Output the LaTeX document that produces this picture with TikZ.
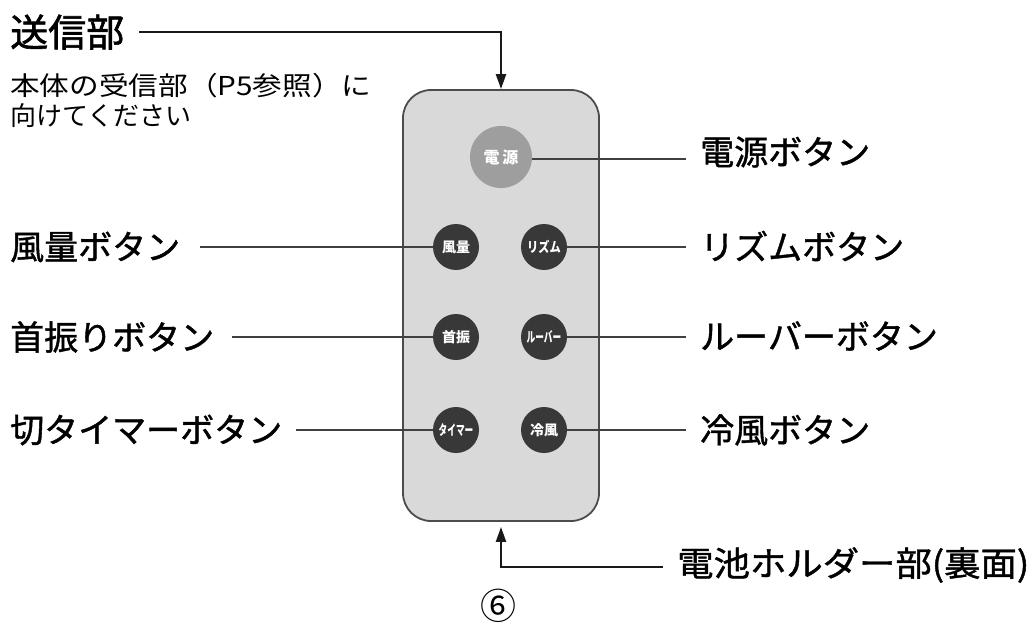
\documentclass[tikz,border=0pt]{standalone}
\usepackage{fontspec}
\usepackage{graphicx}
\usetikzlibrary{arrows.meta}
\setmainfont{Noto Sans CJK JP}
\newfontfamily\myMed[FakeBold=1.2]{Noto Sans CJK JP}
\newfontfamily\myBold[FakeBold=1.5]{Noto Sans CJK JP}
\newcommand\myLab{\fontsize{34}{40}\selectfont\myMed}
\newcommand\myBtn{\fontsize{14}{16}\selectfont\bfseries}
\begin{document}
\begin{tikzpicture}[x=1pt,y=-1pt,
  lab/.style={font=\myLab, inner sep=0pt, anchor=west},
  conn/.style={draw=black!75, line width=1.3pt},
  arr/.style={draw=black!90, line width=2.2pt, -{Triangle[length=15pt,width=10pt]}},
  btn/.style={circle, fill=black!78, minimum size=46pt, inner sep=0pt, text=white, font=\myBtn},
]
\useasboundingbox (0,0) rectangle (1032,623);
% remote body
\node[draw=black!70, line width=1.8pt, fill=black!15, rounded corners=28pt,
      minimum width=196pt, minimum height=431pt, inner sep=0pt] (body) at (501,305.5) {};
% buttons
\node[circle, fill=black!38, minimum size=62pt, inner sep=0pt, text=white,
      font=\fontsize{16}{18}\selectfont\bfseries] (pwr) at (501,157) {電\,源};
\node[btn] (fuuryo) at (456,247) {風量};
\node[btn] (rizumu) at (544,247) {\scalebox{0.8}[1]{リズム}};
\node[btn] (kubi)   at (456,337) {首振};
\node[btn] (louver) at (544,337) {\scalebox{0.62}[1]{ルーバー}};
\node[btn] (timer)  at (456,430) {\scalebox{0.62}[1]{タイマー}};
\node[btn] (reifu)  at (544,430) {冷風};
% left labels
\node[lab, font=\fontsize{38}{44}\selectfont\myBold] (sendL) at (10,32) {送信部};
\node[anchor=west, inner sep=0pt, font=\fontsize{26}{30}\selectfont] (sub1) at (10,86) {\scalebox{1.14}[1]{本体の受信部（P5参照）に}};
\node[anchor=west, inner sep=0pt, font=\fontsize{26}{30}\selectfont] (sub2) at (10,116) {向けてください};
\node[lab] (fuuryoL) at (10,247) {風量ボタン};
\node[lab] (kubiL)   at (10,337) {首振りボタン};
\node[lab] (timerL)  at (10,430) {切タイマーボタン};
% right labels
\node[lab] (pwrL)    at (700,152) {電源ボタン};
\node[lab] (rizumuL) at (700,246) {リズムボタン};
\node[lab] (louverL) at (700,336) {ルーバーボタン};
\node[lab] (reifuL)  at (700,430) {冷風ボタン};
\node[lab] (battL)   at (677,565) {\scalebox{1.07}[1]{電池ホルダー部(裏面)}};
\node[inner sep=0pt, font=\fontsize{36}{40}\selectfont] (num) at (498,606) {⑥};
% connectors
\draw[conn, shorten <=20pt] (fuuryoL.east) -- (fuuryo.west);
\draw[conn, shorten <=18pt] (kubiL.east) -- (kubi.west);
\draw[conn, shorten <=14pt] (timerL.east) -- (timer.west);
\draw[conn, shorten >=14pt] ([yshift=-2pt]pwr.east) -- ([yshift=-2pt]pwr.east -| pwrL.west);
\draw[conn, shorten >=14pt] (rizumu.east) -- (rizumu.east -| rizumuL.west);
\draw[conn, shorten >=14pt] (louver.east) -- (louver.east -| louverL.west);
\draw[conn, shorten >=14pt] (reifu.east) -- (reifu.east -| reifuL.west);
% arrows
\draw[arr, shorten <=15pt] (sendL.east) -| (body.north);
\draw[arr, shorten <=14pt, shorten >=5pt] ([yshift=-2pt]battL.west) -| (body.south);
\end{tikzpicture}
\end{document}
